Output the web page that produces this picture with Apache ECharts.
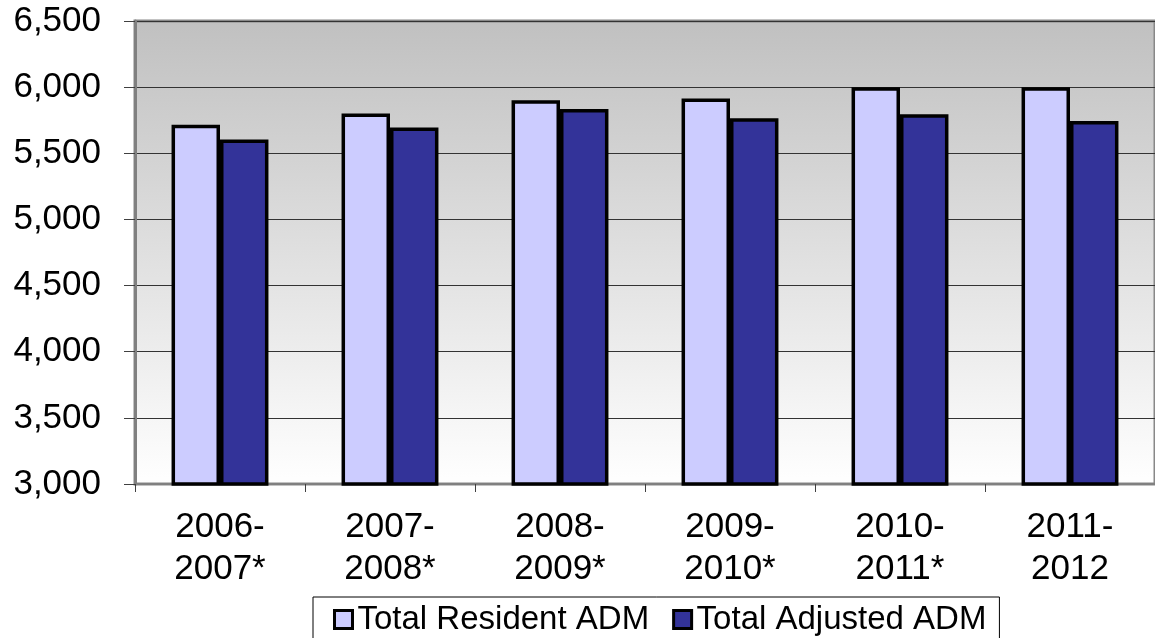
<!DOCTYPE html>
<html>
<head>
<meta charset="utf-8">
<script src="https://cdn.jsdelivr.net/npm/echarts@6/dist/echarts.min.js"></script>
<style>
  html, body { margin: 0; padding: 0; background: #ffffff; }
  #chart { width: 1155px; height: 638px; }
</style>
</head>
<body>
<div id="chart"></div>
<script>
// School years shown on the category axis
const years = ['2006-\n2007*', '2007-\n2008*', '2008-\n2009*', '2009-\n2010*', '2010-\n2011*', '2011-\n2012'];
// Average daily membership per year
const residentADM = [5715, 5800, 5900, 5915, 6000, 6000];
const adjustedADM = [5605, 5695, 5835, 5765, 5795, 5745];
const seriesNames = ['Total Resident ADM', 'Total Adjusted ADM'];

const FONT = '"Liberation Sans", Arial, sans-serif';

const chart = echarts.init(document.getElementById('chart'), null, { renderer: 'canvas' });

chart.setOption({
  animation: false,
  backgroundColor: '#ffffff',
  grid: {
    left: 135,
    top: 21,
    width: 1026,
    bottom: 154,
    show: true,
    borderColor: '#888888',
    borderWidth: 3,
    backgroundColor: new echarts.graphic.LinearGradient(0, 0, 0, 1, [
      { offset: 0, color: '#c0c0c0' },
      { offset: 1, color: '#ffffff' }
    ])
  },
  legend: {
    left: 313,
    top: 597,
    orient: 'horizontal',
    backgroundColor: '#ffffff',
    borderColor: '#000000',
    borderWidth: 1,
    borderRadius: 0,
    padding: [6, 13, 20, 20],
    itemWidth: 18,
    itemHeight: 18,
    itemGap: 23,
    icon: 'rect',
    itemStyle: { borderColor: '#000000', borderWidth: 3 },
    textStyle: { fontFamily: FONT, fontSize: 33, color: '#000000' },
    data: seriesNames
  },
  xAxis: {
    type: 'category',
    data: years,
    axisLine: { show: true, lineStyle: { color: '#808080', width: 2 } },
    axisTick: { show: true, length: 8, lineStyle: { color: '#404040', width: 1 } },
    axisLabel: {
      fontFamily: FONT,
      fontSize: 35,
      lineHeight: 42,
      color: '#000000',
      margin: 22,
      interval: 0
    },
    splitLine: { show: false }
  },
  yAxis: {
    type: 'value',
    min: 3000,
    max: 6500,
    interval: 500,
    axisLine: { show: true, lineStyle: { color: '#808080', width: 3 } },
    axisTick: { show: true, length: 11, lineStyle: { color: '#404040', width: 1 } },
    axisLabel: {
      fontFamily: FONT,
      fontSize: 35,
      color: '#000000',
      margin: 34,
      formatter: v => v.toLocaleString('en-US')
    },
    splitLine: { show: true, lineStyle: { color: '#333333', width: 1 } }
  },
  series: [
    {
      name: seriesNames[0],
      type: 'bar',
      data: residentADM,
      barGap: '0%',
      barCategoryGap: '43%',
      itemStyle: { color: '#ccccff', borderColor: '#000000', borderWidth: 3.5 }
    },
    {
      name: seriesNames[1],
      type: 'bar',
      data: adjustedADM,
      barGap: '0%',
      barCategoryGap: '43%',
      itemStyle: { color: '#333399', borderColor: '#000000', borderWidth: 3.5 }
    }
  ]
});
</script>
</body>
</html>
